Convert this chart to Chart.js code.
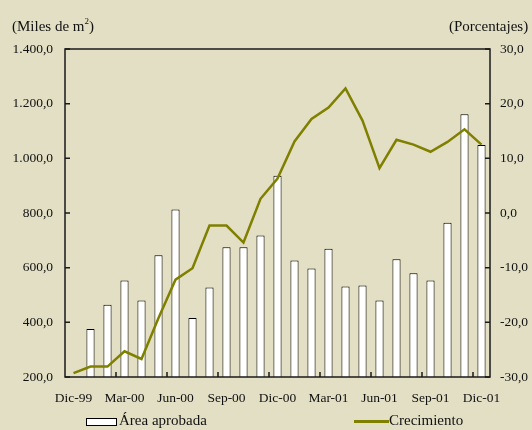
<!DOCTYPE html>
<html>
<head>
<meta charset="utf-8">
<script src="https://cdn.jsdelivr.net/npm/chart.js@4/dist/chart.umd.min.js"></script>
<style>
  body { margin: 0; background: #E3DFC4; }
  #wrap { position: relative; width: 532px; height: 430px; background: #E3DFC4; font-family: "Liberation Serif", "DejaVu Serif", serif; color: #111; }
  canvas { position: absolute; left: 0; top: 0; }
  .lbl { position: absolute; font-size: 15px; line-height: 17px; white-space: nowrap; }
  .lbl sup { font-size: 9px; vertical-align: 7px; line-height: 0; }
  .box { position: absolute; width: 31px; height: 8px; background: #fff; border: 1px solid #000; box-sizing: border-box; }
  .ln { position: absolute; width: 35px; height: 3px; background: #808000; }
</style>
</head>
<body>
<div id="wrap">
  <canvas id="chart" width="532" height="430"></canvas>
  <div class="lbl" style="left:12px; top:18px;">(Miles de m<sup>2</sup>)</div>
  <div class="lbl" style="left:449px; top:18px;">(Porcentajes)</div>
  <div class="box" style="left:86px; top:418px;"></div>
  <div class="lbl" style="left:119px; top:412px;">Área aprobada</div>
  <div class="ln" style="left:354px; top:420px;"></div>
  <div class="lbl" style="left:389px; top:412px;">Crecimiento</div>
</div>
<script>
// meses (dic-99 a dic-01)
const meses = ["Dic-99", "Ene-00", "Feb-00", "Mar-00", "Abr-00", "May-00", "Jun-00", "Jul-00", "Ago-00", "Sep-00", "Oct-00", "Nov-00", "Dic-00",
  "Ene-01", "Feb-01", "Mar-01", "Abr-01", "May-01", "Jun-01", "Jul-01", "Ago-01", "Sep-01", "Oct-01", "Nov-01", "Dic-01"];

// área aprobada (miles de m2)
const areaAprobada = [null, 376, 464, 553, 480, 645, 813, 416, 527, 675, 675, 718, 936,
  626, 597, 669, 531, 535, 480, 631, 580, 553, 764, 1161, 1049];

// crecimiento (%)
const crecimiento = [-29.3, -28.1, -28.1, -25.3, -26.7, -19.2, -12.2, -10.1, -2.3, -2.3, -5.4, 2.6, 6.3,
  13.1, 17.2, 19.3, 22.8, 16.9, 8.2, 13.4, 12.5, 11.2, 13.0, 15.3, 12.5];

// etiquetas visibles cada 3 meses
const etiquetasX = ["Dic-99", "Mar-00", "Jun-00", "Sep-00", "Dic-00", "Mar-01", "Jun-01", "Sep-01", "Dic-01"];

function formato(v) {
  const neg = v < 0;
  let s = Math.abs(v).toFixed(1).replace(".", ",");
  let [ent, dec] = s.split(",");
  ent = ent.replace(/\B(?=(\d{3})+(?!\d))/g, ".");
  return (neg ? "-" : "") + ent + "," + dec;
}

// marco y marcas hacia adentro
const marcoPlugin = {
  id: "marco",
  afterDraw(chart) {
    const ctx = chart.ctx;
    const a = chart.chartArea;
    const x = chart.scales.x, y = chart.scales.y, y2 = chart.scales.y2;
    ctx.save();
    ctx.strokeStyle = "#1a1a1a";
    ctx.lineWidth = 1.5;
    ctx.strokeRect(a.left, a.top, a.right - a.left, a.bottom - a.top);
    ctx.beginPath();
    y.ticks.forEach(t => {
      const py = y.getPixelForValue(t.value);
      ctx.moveTo(a.left, py); ctx.lineTo(a.left + 5, py);
    });
    y2.ticks.forEach(t => {
      const py = y2.getPixelForValue(t.value);
      ctx.moveTo(a.right, py); ctx.lineTo(a.right - 5, py);
    });
    for (let i = 3; i < meses.length; i += 3) {
      const px = (x.getPixelForValue(i - 1) + x.getPixelForValue(i)) / 2;
      ctx.moveTo(px, a.bottom); ctx.lineTo(px, a.bottom - 5);
    }
    ctx.stroke();
    ctx.restore();
  }
};

const fuente = { family: "'Liberation Serif', 'DejaVu Serif', serif", size: 13.5 };

new Chart(document.getElementById("chart"), {
  data: {
    labels: meses,
    datasets: [
      {
        type: "line",
        label: "Crecimiento",
        data: crecimiento,
        yAxisID: "y2",
        borderColor: "#808000",
        borderWidth: 2.5,
        pointRadius: 0,
        tension: 0,
        order: 0
      },
      {
        type: "bar",
        label: "Área aprobada",
        data: areaAprobada,
        yAxisID: "y",
        backgroundColor: "#ffffff",
        borderColor: "#000000",
        borderWidth: 1,
        barPercentage: 0.48,
        categoryPercentage: 1,
        order: 1
      }
    ]
  },
  options: {
    responsive: false,
    animation: false,
    layout: { padding: { top: 49, left: 0, right: 0, bottom: 0 } },
    plugins: { legend: { display: false }, tooltip: { enabled: false } },
    scales: {
      x: {
        offset: true,
        grid: { display: false, drawTicks: false },
        border: { display: false },
        ticks: {
          autoSkip: false,
          maxRotation: 0,
          padding: 13,
          color: "#111",
          font: fuente,
          callback: function (v, i) { return etiquetasX.includes(meses[i]) ? meses[i] : ""; }
        },
        afterFit: s => { s.height = 53; }
      },
      y: {
        position: "left",
        min: 200, max: 1400,
        grid: { display: false, drawTicks: false },
        border: { display: false },
        ticks: { stepSize: 200, padding: 12, color: "#111", font: fuente, callback: v => formato(v) },
        afterFit: s => { s.width = 65; }
      },
      y2: {
        position: "right",
        min: -30, max: 30,
        grid: { display: false, drawTicks: false },
        border: { display: false },
        ticks: { stepSize: 10, padding: 10, color: "#111", font: fuente, callback: v => formato(v) },
        afterFit: s => { s.width = 42; }
      }
    }
  },
  plugins: [marcoPlugin]
});
</script>
</body>
</html>
